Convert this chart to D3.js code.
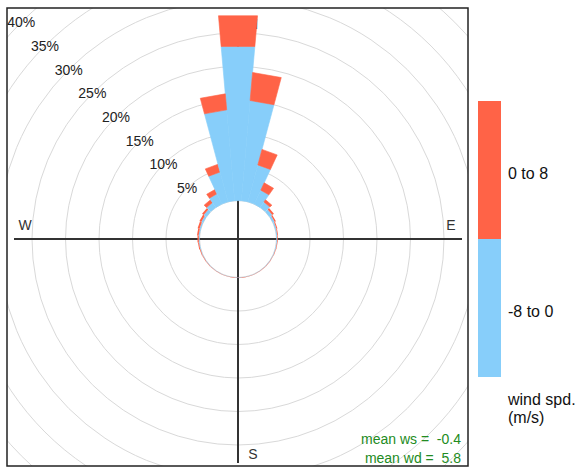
<!DOCTYPE html>
<html>
<head>
<meta charset="utf-8">
<script src="https://cdn.jsdelivr.net/npm/d3@7"></script>
<style>
  body { margin: 0; background: #fff; }
  svg { font-family: "Liberation Sans", Arial, sans-serif; }
</style>
</head>
<body>
<svg id="rose" width="579" height="470"></svg>
<script>
// wind direction bins (degrees)
var directions = [0, 10, 20, 30, 40, 50, 60, 70, 80, 90, 100, 110, 120, 130, 140, 150, 160, 170,
                  180, 190, 200, 210, 220, 230, 240, 250, 260, 270, 280, 290, 300, 310, 320, 330, 340, 350];
// frequency (%) for "-8 to 0"
var negSpeed = [23.1, 15.0, 5.7, 2.3, 1.0, 0.5, 0.3, 0.2, 0.15, 0.12, 0.1, 0.08, 0.06, 0.06, 0.05, 0.05, 0.04, 0.04,
                0.05, 0.04, 0.04, 0.05, 0.05, 0.06, 0.06, 0.08, 0.1, 0.12, 0.15, 0.2, 0.3, 0.5, 0.9, 1.7, 4.6, 13.6];
// frequency (%) for "0 to 8"
var posSpeed = [4.6, 4.2, 2.4, 1.2, 0.4, 0.3, 0.2, 0.15, 0.12, 0.1, 0.08, 0.06, 0.05, 0.05, 0.05, 0.04, 0.05, 0.04,
                0.05, 0.04, 0.05, 0.05, 0.05, 0.06, 0.08, 0.1, 0.15, 0.2, 0.25, 0.3, 0.3, 0.3, 0.5, 0.7, 1.2, 2.4];
var pctTicks = [5, 10, 15, 20, 25, 30, 35, 40];
var compass = [["N", 0], ["E", 90], ["S", 180], ["W", 270]];
var keyLabels = ["0 to 8", "-8 to 0"];
var keyColors = ["#ff6347", "#87cefa"];
var meanLines = ["mean ws =  -0.4", "mean wd =  5.8"];

var svg = d3.select("#rose");
var frame = { left: 7, top: 8, right: 468, bottom: 466 };
var cx = 238, cy = 239;

svg.append("defs").append("clipPath").attr("id", "frameclip")
  .append("rect")
    .attr("x", frame.left).attr("y", frame.top)
    .attr("width", frame.right - frame.left).attr("height", frame.bottom - frame.top);

var r = d3.scaleLinear().domain([0, 40]).range([38.5, 306.5]);
var ang = d3.scaleLinear().domain([0, 360]).range([0, 2 * Math.PI]);
var halfWidth = ang(5);

var g = svg.append("g")
    .attr("clip-path", "url(#frameclip)")
  .append("g")
    .attr("transform", "translate(" + cx + "," + cy + ")");

// grid circles
g.selectAll(".grid")
  .data([0].concat(pctTicks))
  .enter().append("circle")
    .attr("class", "grid")
    .attr("r", function(d) { return r(d); })
    .attr("fill", "none")
    .attr("stroke", "#d9d9d9")
    .attr("stroke-width", 1);

// cross lines
g.append("line").attr("x1", -224).attr("x2", 224).attr("y1", 0).attr("y2", 0)
  .attr("stroke", "#333").attr("stroke-width", 2);
g.append("line").attr("x1", 0).attr("x2", 0).attr("y1", -222).attr("y2", 224)
  .attr("stroke", "#333").attr("stroke-width", 2);

// compass labels
g.selectAll(".compass")
  .data(compass)
  .enter().append("text")
    .attr("class", "compass")
    .attr("x", function(d) { return d[1] % 180 == 0 ? 15 : 213 * Math.sin(ang(d[1])); })
    .attr("y", function(d) { return d[1] % 180 == 0 ? -215 * Math.cos(ang(d[1])) : -14; })
    .attr("text-anchor", "middle")
    .attr("dominant-baseline", "central")
    .style("font-size", "14px")
    .attr("fill", "#333")
    .text(function(d) { return d[0]; });

// stacked segments
var segs = [];
directions.forEach(function(d, i) {
  segs.push({ dir: d, lo: 0, hi: negSpeed[i], col: keyColors[1] });
  segs.push({ dir: d, lo: negSpeed[i], hi: negSpeed[i] + posSpeed[i], col: keyColors[0] });
});

function segPath(s) {
  var a = ang(s.dir), r1 = r(s.lo), r2 = r(s.hi);
  var pts = [
    [r1 * Math.sin(a - halfWidth), -r1 * Math.cos(a - halfWidth)],
    [r1 * Math.sin(a + halfWidth), -r1 * Math.cos(a + halfWidth)],
    [r2 * Math.sin(a + halfWidth), -r2 * Math.cos(a + halfWidth)],
    [r2 * Math.sin(a - halfWidth), -r2 * Math.cos(a - halfWidth)]
  ];
  return d3.line()(pts) + "Z";
}

g.selectAll(".seg")
  .data(segs)
  .enter().append("path")
    .attr("class", "seg")
    .attr("d", segPath)
    .attr("fill", function(d) { return d.col; })
    // thin same-colour outline on the big wedges hides the seams between them
    .attr("stroke", function(d) { return d.hi > 1 ? d.col : "none"; })
    .attr("stroke-width", 0.6);

// percentage labels on the NW diagonal
g.selectAll(".pct")
  .data(pctTicks)
  .enter().append("text")
    .attr("class", "pct")
    .attr("x", function(d) { return -r(d) * Math.SQRT1_2; })
    .attr("y", function(d) { return -r(d) * Math.SQRT1_2; })
    .attr("text-anchor", "middle")
    .attr("dominant-baseline", "central")
    .style("font-size", "14px")
    .attr("fill", "#222")
    .text(function(d) { return d + "%"; });

// means
svg.selectAll(".mean")
  .data(meanLines)
  .enter().append("text")
    .attr("class", "mean")
    .attr("x", 461)
    .attr("y", function(d, i) { return 444 + i * 19; })
    .attr("text-anchor", "end")
    .style("font-size", "14px")
    .style("white-space", "pre")
    .attr("fill", "#228b22")
    .text(function(d) { return d; });

// frame
svg.append("rect")
  .attr("x", frame.left).attr("y", frame.top)
  .attr("width", frame.right - frame.left).attr("height", frame.bottom - frame.top)
  .attr("fill", "none").attr("stroke", "#222").attr("stroke-width", 1.5);

// colour key
var key = svg.append("g");
key.selectAll("rect")
  .data(keyColors)
  .enter().append("rect")
    .attr("x", 478)
    .attr("y", function(d, i) { return 101 + i * 138; })
    .attr("width", 23)
    .attr("height", 138)
    .attr("fill", function(d) { return d; });
key.selectAll(".klab")
  .data(keyLabels)
  .enter().append("text")
    .attr("class", "klab")
    .attr("x", 508)
    .attr("y", function(d, i) { return 179 + i * 138; })
    .style("font-size", "16px")
    .attr("fill", "#111")
    .text(function(d) { return d; });
key.selectAll(".ktitle")
  .data(["wind spd.", "(m/s)"])
  .enter().append("text")
    .attr("class", "ktitle")
    .attr("x", 508)
    .attr("y", function(d, i) { return 405 + i * 18; })
    .style("font-size", "16px")
    .attr("fill", "#111")
    .text(function(d) { return d; });
</script>
</body>
</html>
